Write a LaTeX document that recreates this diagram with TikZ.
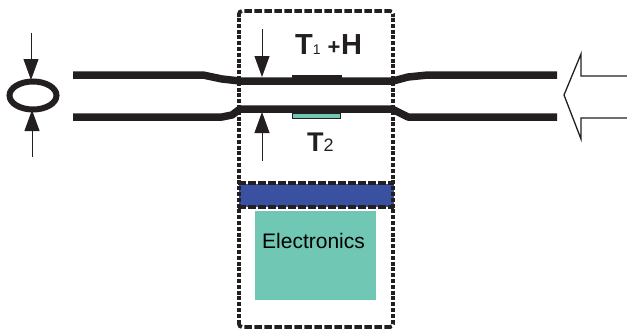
\documentclass[tikz,border=0pt]{standalone}
\usepackage{fontspec}
\setmainfont{Liberation Sans}
\usetikzlibrary{arrows.meta,shapes.geometric}
\definecolor{teal1}{HTML}{70C8B4}
\definecolor{blue1}{HTML}{3A50A0}
\definecolor{ink}{HTML}{231F20}
\tikzset{
  tube/.style={draw=ink,line width=7.5pt,line join=round},
  hdash/.style={draw=ink,line width=3.8pt,dash pattern=on 7.5pt off 2.5pt},
  vdash/.style={draw=ink,line width=3.8pt,dash pattern=on 4pt off 1.8pt},
  pinch/.style={draw=ink,line width=0.9pt,-{Triangle[length=21pt,width=15pt]}},
  label/.style={inner sep=0pt,anchor=base west,text=ink},
  x=1pt,y=-1pt
}
\begin{document}
\begin{tikzpicture}
\useasboundingbox (0,0) rectangle (627,330);
% blue band and electronics
\node[fill=blue1,minimum width=155pt,minimum height=23pt,inner sep=0pt] (band) at (316,195) {};
\node[fill=teal1,minimum width=121pt,minimum height=89pt,inner sep=0pt] (elec) at (315.5,255.5) {};
\node[label,font=\fontsize{21}{24}\selectfont,text=black] (electxt) at (262,248) {Electronics};
\draw[hdash] (band.north west) -- (band.north east);
\draw[hdash] (band.south west) -- (band.south east);
% tubes
\draw[tube] (73,75) -- (203,75) -- (222,79) -- (240,81) -- (393,81) -- (408,77) -- (428,75) -- (557,75);
\draw[tube] (73,117) -- (222,117) -- (232,115) -- (240,109) -- (392,109) -- (408,117) -- (557,117);
% sensors
\node[fill=ink,minimum width=50pt,minimum height=5pt,inner sep=0pt] (t1bar) at (317,77.5) {};
\node[draw=ink,line width=1pt,fill=teal1,minimum width=48pt,minimum height=5pt,inner sep=0pt] (t2bar) at (316.5,115.5) {};
% housing
\coordinate (boxnw) at (239,11);
\coordinate (boxne) at (393,11);
\coordinate (boxse) at (393,327);
\coordinate (boxsw) at (239,327);
\draw[hdash,rounded corners=3pt] (239,17) -- (boxnw) -- (boxne) -- (393,17);
\draw[hdash,rounded corners=3pt] (239,321) -- (boxsw) -- (boxse) -- (393,321);
\draw[vdash] (239,18) -- (239,320);
\draw[vdash] (393,18) -- (393,320);
% labels
\node[label,font=\bfseries] (t1h) at (295,54) {\fontsize{29}{30}\selectfont T\fontsize{14}{14}\selectfont\mdseries 1\kern 7pt\bfseries\fontsize{22}{24}\selectfont +\kern 0.5pt\fontsize{29}{30}\selectfont H};
\node[label,font=\bfseries] (t2) at (307,151) {\fontsize{27}{30}\selectfont T\fontsize{18}{18}\selectfont\mdseries 2};
% tube cross-section
\node[ellipse,draw=ink,line width=6pt,minimum width=47pt,minimum height=28pt,inner sep=0pt] (sect) at (33,95.5) {};
% pinch arrows
\coordinate (a1) at (31,33);
\coordinate (a1e) at (31,80);
\coordinate (a2) at (32,157);
\coordinate (a2e) at (32,110);
\coordinate (b1) at (262,29);
\coordinate (b1e) at (262,77);
\coordinate (b2) at (262,161);
\coordinate (b2e) at (262,112);
\draw[pinch] (a1) -- (a1e);
\draw[pinch] (a2) -- (a2e);
\draw[pinch] (b1) -- (b1e);
\draw[pinch] (b2) -- (b2e);
% flow arrow
\draw[draw=ink,line width=1.3pt,miter limit=10] (627,76) -- (581,76) -- (581,54) -- (564,95) -- (581,139) -- (581,118) -- (627,118);
\end{tikzpicture}
\end{document}
